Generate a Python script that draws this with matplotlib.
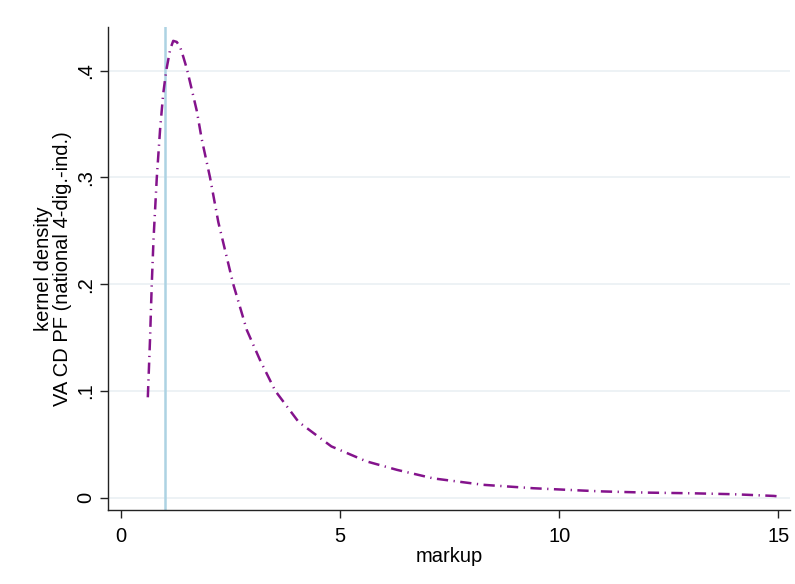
import matplotlib
matplotlib.use("Agg")
import matplotlib.pyplot as plt

plt.rcParams['font.family'] = ['Liberation Sans', 'DejaVu Sans']

# kernel density of markup
markup = [0.61, 0.66, 0.70, 0.74, 0.815, 0.89, 0.96, 1.03, 1.12, 1.19, 1.27, 1.35,
          1.42, 1.50, 1.61, 1.73, 1.84, 2.03, 2.22, 2.56, 2.87, 3.17, 3.52, 4.05, 4.8,
          5.6, 6.3, 7.13, 8.27, 9.41, 10.55, 11.0, 12.0, 13.0, 13.97, 14.9, 15.0]
density = [0.094, 0.148, 0.200, 0.242, 0.300, 0.345, 0.378, 0.400, 0.420, 0.428, 0.427, 0.422,
           0.413, 0.402, 0.383, 0.362, 0.336, 0.300, 0.258, 0.200, 0.157, 0.129, 0.100, 0.071, 0.048,
           0.034, 0.026, 0.018, 0.012, 0.0088, 0.0066, 0.0058, 0.0047, 0.0041, 0.0032, 0.0016, 0.0012]
ref_line = 1.0

xticks = [0, 5, 10, 15]
xticklabels = ["0", "5", "10", "15"]
yticks = [0, 0.1, 0.2, 0.3, 0.4]
yticklabels = ["0", ".1", ".2", ".3", ".4"]

fig = plt.figure(figsize=(7.95, 5.84), dpi=100)
ax = fig.add_axes([0.1358, 0.1267, 0.9937 - 0.1358, 0.9538 - 0.1267])

ax.set_xlim(-0.30, 15.27)
ax.set_ylim(-0.0116, 0.441)

for yv in yticks:
    ax.axhline(yv, color='#eaf0f3', lw=1.2, zorder=0)

ax.axvline(ref_line, color='#add3e3', lw=1.8, zorder=1)

ax.plot(markup, density, color='#84138c', lw=1.8,
        linestyle=(0, (4.5, 2.2, 0.5, 2.2)), zorder=2)

ax.set_xticks(xticks)
ax.set_xticklabels(xticklabels, fontsize=14.5)
ax.set_yticks(yticks)
ax.set_yticklabels(yticklabels, fontsize=14.5, rotation=90, va='center')

ax.spines['top'].set_visible(False)
ax.spines['right'].set_visible(False)
for s in ['left', 'bottom']:
    ax.spines[s].set_linewidth(1.0)
    ax.spines[s].set_color('#222222')
ax.tick_params(axis='both', direction='out', length=6, width=1.0, color='#222222')
ax.tick_params(axis='y', pad=3)
ax.tick_params(axis='x', pad=6)

ax.set_xlabel("markup", fontsize=14.5, labelpad=1)
ax.set_ylabel("kernel density\nVA CD PF (national 4-dig.-ind.)", fontsize=14.5,
              linespacing=1.0, va='center', ha='center')
ax.yaxis.set_label_coords(-0.080, 0.5)

fig.savefig("out.png", dpi=100, facecolor='white')
